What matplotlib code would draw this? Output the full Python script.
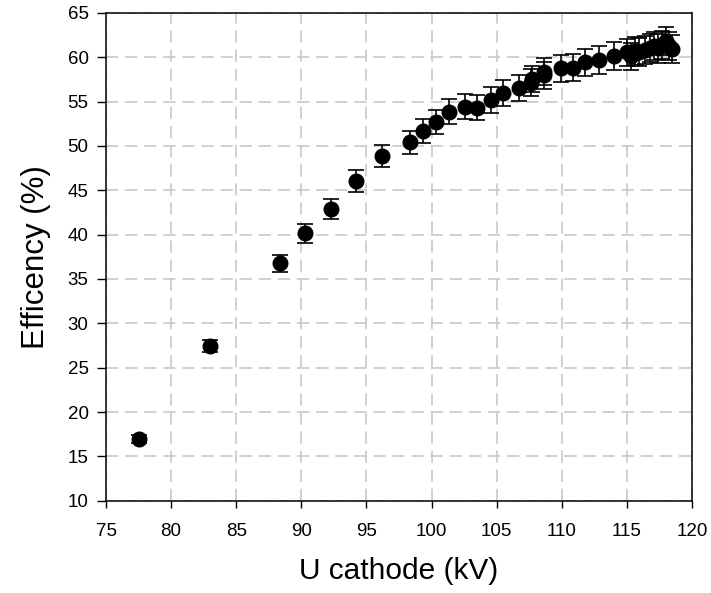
import matplotlib
matplotlib.use("Agg")
import matplotlib.pyplot as plt

plt.rcParams['font.family'] = ['Liberation Sans', 'DejaVu Sans']

# data
u_cathode = [77.55, 82.95, 88.33, 90.31, 92.25, 94.23, 96.18, 98.38, 99.36, 100.31,
             101.33, 102.54, 103.51, 104.54, 105.51, 106.72, 107.67, 107.72, 108.62, 108.66,
             109.92, 110.85, 111.80, 112.85, 114.02, 115.00, 115.30, 115.60, 115.90, 116.40,
             116.80, 117.10, 117.40, 117.70, 118.00, 118.20, 118.45]
efficiency = [16.92, 27.45, 36.77, 40.15, 42.86, 46.05, 48.87, 50.42, 51.73, 52.67,
              53.87, 54.43, 54.32, 55.19, 55.94, 56.58, 57.15, 57.55, 57.95, 58.35,
              58.76, 58.82, 59.42, 59.72, 60.15, 60.55, 60.10, 60.70, 60.65, 60.85,
              61.05, 61.25, 61.00, 61.40, 61.85, 61.30, 60.95]
eff_err = [0.44, 0.71, 0.96, 1.04, 1.11, 1.20, 1.27, 1.31, 1.35, 1.37,
           1.40, 1.42, 1.41, 1.43, 1.45, 1.47, 1.49, 1.50, 1.51, 1.52,
           1.53, 1.53, 1.55, 1.55, 1.56, 1.57, 1.56, 1.58, 1.58, 1.58,
           1.59, 1.59, 1.59, 1.60, 1.61, 1.59, 1.58]

x_ticks = list(range(75, 121, 5))
y_ticks = list(range(10, 66, 5))

fig = plt.figure(figsize=(7.11, 5.93), dpi=100)
ax = fig.add_axes([0.1491, 0.1557, 0.8242, 0.8224])

ax.errorbar(u_cathode, efficiency, yerr=eff_err, fmt='o', color='black',
            markersize=10.5, ecolor='black', elinewidth=1.2, capsize=5.5,
            capthick=1.2, zorder=3)

ax.set_xlim(75, 120)
ax.set_ylim(10, 65)
ax.set_xticks(x_ticks)
ax.set_yticks(y_ticks)
ax.grid(True, color='#c4c4c4', linestyle=(0, (8, 4.5)), linewidth=1.1, zorder=0)
ax.set_axisbelow(True)

ax.tick_params(axis='x', direction='out', length=5, width=1, labelsize=13.5, pad=11)
ax.tick_params(axis='y', direction='out', length=6.5, width=1, labelsize=13.5, pad=6)
for s in ax.spines.values():
    s.set_linewidth(1.1)

ax.set_xlabel('U cathode (kV)', fontsize=21.5, labelpad=12)
ax.set_ylabel('Efficency (%)', fontsize=22.5, labelpad=12)

fig.savefig('out.png', dpi=100)
